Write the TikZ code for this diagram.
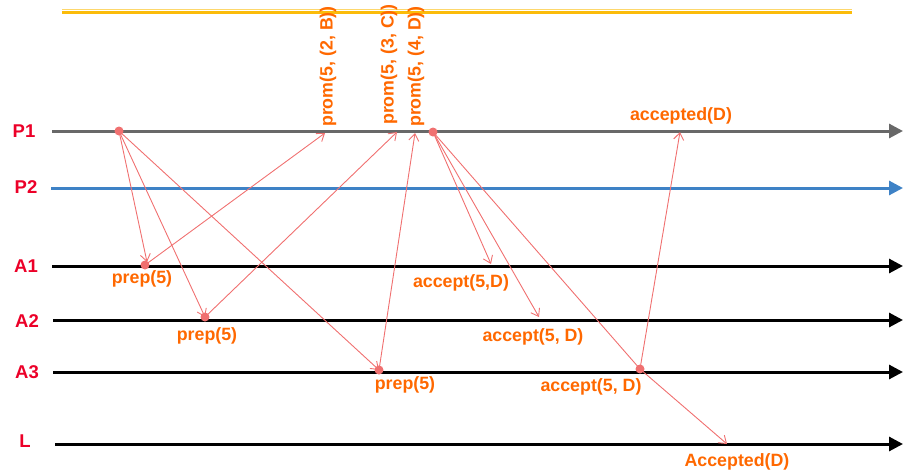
\documentclass[tikz,border=0pt]{standalone}
\usepackage{fontspec}
\setmainfont{Liberation Sans}
\usetikzlibrary{arrows.meta}
\definecolor{lblred}{RGB}{236,0,40}
\definecolor{msgorange}{RGB}{255,104,0}
\definecolor{msgline}{RGB}{240,112,112}
\definecolor{p1grey}{RGB}{104,104,104}
\definecolor{p2blue}{RGB}{62,130,198}
\definecolor{titlegold}{RGB}{251,188,10}
\tikzset{
  tline/.style={line width=3pt,-{Triangle[length=14pt,width=14pt]}},
  pname/.style={text=lblred,font=\fontsize{18.5}{20}\selectfont\bfseries,inner sep=0pt},
  mlabel/.style={text=msgorange,font=\fontsize{17.8}{19}\selectfont\bfseries,inner sep=0pt},
  msg/.style={draw=msgline,line width=0.9pt,-{Straight Barb[length=7pt,width=10pt]}},
  msgnotip/.style={draw=msgline,line width=0.9pt},
  dot/.style={circle,fill=msgline,inner sep=0pt,minimum size=9pt},
}
\begin{document}
\begin{tikzpicture}[x=1pt,y=-1pt]
\useasboundingbox (0,0) rectangle (903,475);
% title rule
\coordinate (tl) at (62,9.2); \coordinate (tr) at (852,9.2);
\coordinate (tl2) at (62,12.3); \coordinate (tr2) at (852,12.3);
\draw[titlegold!60,line width=1pt] (tl) -- (tr);
\draw[titlegold,line width=2.6pt] (tl2) -- (tr2);
% timelines
\coordinate (P1s) at (52,131); \coordinate (P1e) at (903,131);
\coordinate (P2s) at (51,188); \coordinate (P2e) at (903,188);
\coordinate (A1s) at (52,266); \coordinate (A1e) at (903,266);
\coordinate (A2s) at (53,320); \coordinate (A2e) at (903,320);
\coordinate (A3s) at (53,372); \coordinate (A3e) at (903,372);
\coordinate (Ls) at (55,444); \coordinate (Le) at (903,444);
\draw[tline,p1grey] (P1s) -- (P1e);
\draw[tline,p2blue] (P2s) -- (P2e);
\draw[tline,black] (A1s) -- (A1e);
\draw[tline,black] (A2s) -- (A2e);
\draw[tline,black] (A3s) -- (A3e);
\draw[tline,black] (Ls) -- (Le);
\node[pname] (nP1) at (24,131) {P1};
\node[pname] (nP2) at (26,187) {P2};
\node[pname] (nA1) at (26,266) {A1};
\node[pname] (nA2) at (27,321) {A2};
\node[pname] (nA3) at (27,372) {A3};
\node[pname] (nL) at (25,441) {L};
% dots
\node[dot] (d1) at (119,131) {};
\node[dot] (dA1) at (145,265) {};
\node[dot] (dA2) at (205,317) {};
\node[dot] (dA3) at (379,370) {};
\node[dot] (d2) at (433,132) {};
\node[dot] (dA3b) at (640,369) {};
% tip coordinates
\coordinate (tA1) at (147,262);
\coordinate (tP1a) at (325,133);
\coordinate (tP1b) at (397,132);
\coordinate (tP1c) at (415,133);
\coordinate (tA1b) at (491,264);
\coordinate (tA2b) at (539,317);
\coordinate (tL) at (727,444);
\coordinate (tP1d) at (680,132);
% messages
\draw[msg] (d1.center) -- (tA1);
\draw[msg] (d1.center) -- (dA2.center);
\draw[msg] (d1.center) -- (dA3.center);
\draw[msg] (dA1.center) -- (tP1a);
\draw[msg] (dA2.center) -- (tP1b);
\draw[msg] (dA3.center) -- (tP1c);
\draw[msg] (d2.center) -- (tA1b);
\draw[msg] (d2.center) -- (tA2b);
\draw[msgnotip] (d2.center) -- (dA3b.center);
\draw[msg] (dA3b.center) -- (tL);
\draw[msg] (dA3b.center) -- (tP1d);
% labels
\node[mlabel,rotate=90,anchor=west] (lb1) at (328,127) {prom(5, (2, B))};
\node[mlabel,rotate=90,anchor=west] (lb2) at (389,125) {prom(5, (3, C))};
\node[mlabel,rotate=90,anchor=west] (lb3) at (416,127) {prom(5, (4, D))};
\node[mlabel] (lp1) at (142,279) {prep(5)};
\node[mlabel] (lp2) at (207,336) {prep(5)};
\node[mlabel] (lp3) at (405,385) {prep(5)};
\node[mlabel] (la1) at (461,283) {accept(5,D)};
\node[mlabel] (la2) at (533,337) {accept(5, D)};
\node[mlabel] (la3) at (591,387) {accept(5, D)};
\node[mlabel] (lac) at (681,116) {accepted(D)};
\node[mlabel] (lAc) at (737,462) {Accepted(D)};
\end{tikzpicture}
\end{document}
